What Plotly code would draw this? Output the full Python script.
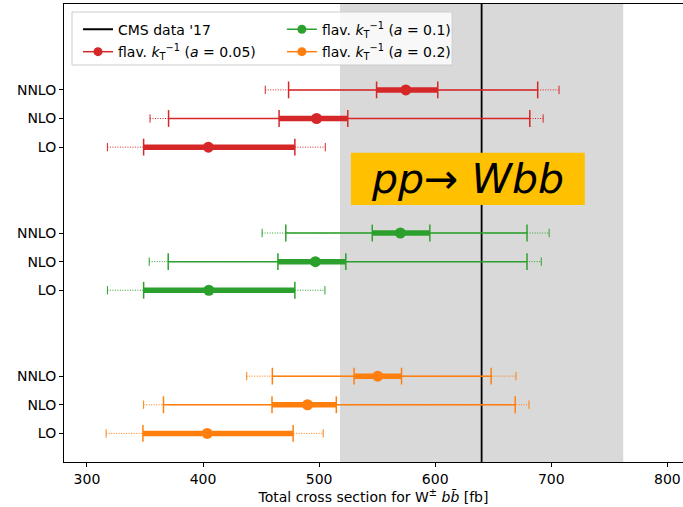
import plotly.graph_objects as go

# ---------------- data ----------------
orders = ["LO", "NLO", "NNLO"]
tick_labels = ["LO", "NLO", "NNLO", "LO", "NLO", "NNLO", "LO", "NLO", "NNLO"]

cms_value = 640.0
cms_band_lo = 518.0
cms_band_hi = 762.0

# a = 0.05 (red)
red_center = [404.6, 497.8, 574.7]
red_thick_lo = [348.8, 465.5, 549.5]
red_thick_hi = [479.1, 524.7, 602.2]
red_thin_lo = [None, 370.3, 473.7]
red_thin_hi = [None, 681.5, 688.3]
red_dot_lo = [317.6, 354.3, 453.6]
red_dot_hi = [505.3, 693.0, 706.7]

# a = 0.1 (green)
green_center = [405.0, 496.8, 570.0]
green_thick_lo = [348.8, 464.5, 545.8]
green_thick_hi = [479.1, 523.0, 595.4]
green_thin_lo = [None, 370.0, 471.3]
green_thin_hi = [None, 679.1, 679.1]
green_dot_lo = [317.6, 353.6, 450.9]
green_dot_hi = [505.0, 691.4, 698.2]

# a = 0.2 (orange)
orange_center = [403.6, 490.0, 550.5]
orange_thick_lo = [348.2, 459.4, 530.1]
orange_thick_hi = [477.6, 514.8, 571.0]
orange_thin_lo = [None, 365.9, 459.7]
orange_thin_hi = [None, 668.9, 648.2]
orange_dot_lo = [316.5, 348.8, 437.6]
orange_dot_hi = [503.5, 680.8, 669.6]

red_y = [10, 11, 12]
green_y = [5, 6, 7]
orange_y = [0, 1, 2]

FONT = "DejaVu Sans"
fig = go.Figure()

# CMS vertical line (legend 1)
fig.add_trace(go.Scatter(x=[cms_value, cms_value], y=[-1, 15], mode="lines",
                         line=dict(color="black", width=1.8),
                         name="CMS data '17", legend="legend"))


def add_series(color, ys, center, tlo, thi, slo, shi, dlo, dhi):
    # dotted full range
    xs, yy = [], []
    for y, a, b in zip(ys, dlo, dhi):
        xs += [a, b, None]
        yy += [y, y, None]
    fig.add_trace(go.Scatter(x=xs, y=yy, mode="lines", showlegend=False,
                             line=dict(color=color, width=1, dash="1px,1.5px"), hoverinfo="skip"))
    fig.add_trace(go.Scatter(x=dlo + dhi, y=ys + ys, mode="markers", showlegend=False,
                             marker=dict(symbol="line-ns", size=6, line=dict(color=color, width=1)),
                             hoverinfo="skip"))
    # thin solid range
    xs, yy, cx, cy = [], [], [], []
    for y, a, b in zip(ys, slo, shi):
        if a is None:
            continue
        xs += [a, b, None]
        yy += [y, y, None]
        cx += [a, b]
        cy += [y, y]
    fig.add_trace(go.Scatter(x=xs, y=yy, mode="lines", showlegend=False,
                             line=dict(color=color, width=1.5), hoverinfo="skip"))
    fig.add_trace(go.Scatter(x=cx, y=cy, mode="markers", showlegend=False,
                             marker=dict(symbol="line-ns", size=12, line=dict(color=color, width=1.5)),
                             hoverinfo="skip"))
    # thick range
    xs, yy = [], []
    for y, a, b in zip(ys, tlo, thi):
        xs += [a, b, None]
        yy += [y, y, None]
    fig.add_trace(go.Scatter(x=xs, y=yy, mode="lines", showlegend=False,
                             line=dict(color=color, width=5.5), hoverinfo="skip"))
    fig.add_trace(go.Scatter(x=tlo + thi, y=ys + ys, mode="markers", showlegend=False,
                             marker=dict(symbol="line-ns", size=12, line=dict(color=color, width=1.5)),
                             hoverinfo="skip"))
    # central values
    fig.add_trace(go.Scatter(x=center, y=ys, mode="markers", showlegend=False,
                             marker=dict(color=color, size=11)))


RED, GREEN, ORANGE = "#d62728", "#2ca02c", "#ff7f0e"
add_series(RED, red_y, red_center, red_thick_lo, red_thick_hi, red_thin_lo, red_thin_hi, red_dot_lo, red_dot_hi)
add_series(GREEN, green_y, green_center, green_thick_lo, green_thick_hi, green_thin_lo, green_thin_hi, green_dot_lo, green_dot_hi)
add_series(ORANGE, orange_y, orange_center, orange_thick_lo, orange_thick_hi, orange_thin_lo, orange_thin_hi, orange_dot_lo, orange_dot_hi)


# legend entries
def leg(name, color, legend):
    fig.add_trace(go.Scatter(x=[None], y=[None], mode="lines+markers", name=name,
                             line=dict(color=color, width=1.5), marker=dict(color=color, size=9),
                             legend=legend))


kt = "flav. <i>k</i><sub>T</sub><sup>−1</sup> (<i>a</i> = {})"
leg(kt.format("0.05"), RED, "legend2")
leg(kt.format("0.1"), GREEN, "legend3")
leg(kt.format("0.2"), ORANGE, "legend4")

row1 = 0.944
row2 = 0.895
col1 = 0.0226
col2 = 0.352


def legbox(x, y):
    return dict(x=x, y=y, xanchor="left", yanchor="middle", bgcolor="rgba(0,0,0,0)",
                font=dict(size=14), borderwidth=0)


fig.update_layout(
    width=683, height=507,
    margin=dict(l=64, r=0, t=4, b=45),
    plot_bgcolor="white", paper_bgcolor="white",
    font=dict(family=FONT, size=14, color="black"),
    xaxis=dict(range=[280.2, 813.5], tickvals=[300, 400, 500, 600, 700, 800],
               ticks="outside", ticklen=4, tickcolor="black", showgrid=False, zeroline=False,
               showline=True, linecolor="black", linewidth=1, mirror=True,
               title=dict(text="Total cross section for W<sup>±</sup> <i>bb̄</i> [fb]",
                          standoff=6, font=dict(size=14))),
    yaxis=dict(range=[-1, 15], tickvals=orange_y + green_y + red_y, ticktext=tick_labels,
               ticks="outside", ticklen=4, tickcolor="black", showgrid=False, zeroline=False,
               showline=True, linecolor="black", linewidth=1),
    legend=legbox(col1, row1),
    legend2=legbox(col1, row2),
    legend3=legbox(col2, row1),
    legend4=legbox(col2, row2),
    shapes=[
        dict(type="rect", xref="x", yref="paper", x0=cms_band_lo, x1=cms_band_hi, y0=0, y1=1,
             fillcolor="#d9d9d9", line=dict(width=0), layer="below"),
        dict(type="rect", xref="paper", yref="paper", x0=0.0129, x1=0.627, y0=0.8668, y1=0.9825,
             fillcolor="rgba(255,255,255,0.8)", line=dict(color="#cccccc", width=1), layer="above"),
        dict(type="rect", xref="x", yref="y", x0=527.4, x1=728.9, y0=7.98, y1=9.8,
             fillcolor="#ffc000", line=dict(width=0), layer="above"),
    ],
    annotations=[
        dict(x=628.2, y=8.89, xref="x", yref="y", text="<i>pp</i>→ <i>Wbb</i>",
             showarrow=False, font=dict(size=41, color="black", family=FONT)),
    ],
)

fig.write_html("out.html")
